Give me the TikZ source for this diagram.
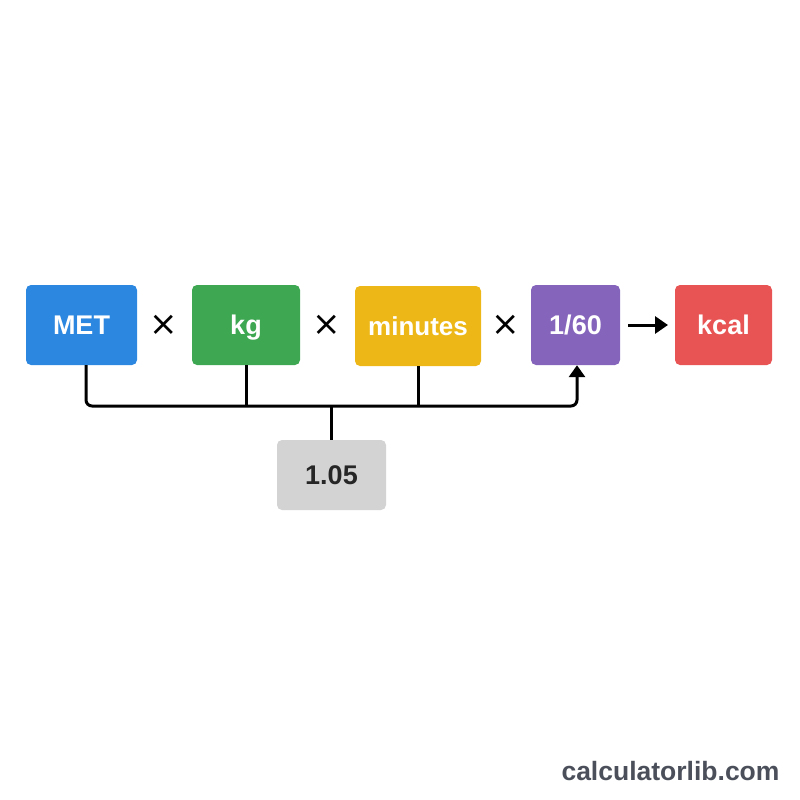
\documentclass[tikz,border=0pt]{standalone}
\usepackage{fontspec}
\setmainfont{Liberation Sans}
\newfontfamily\symfont{DejaVu Sans}
\usetikzlibrary{arrows.meta}
\definecolor{cblue}{HTML}{2B87E0}
\definecolor{cgreen}{HTML}{3DA752}
\definecolor{cyellow}{HTML}{EDB817}
\definecolor{cpurple}{HTML}{8565BC}
\definecolor{cred}{HTML}{E85454}
\definecolor{cgray}{HTML}{D3D3D3}
\definecolor{ctext}{HTML}{4A4F5A}
\tikzset{
  box/.style={rounded corners=5pt, minimum height=80pt, inner sep=0pt, text=white,
    text height=19.5pt, text depth=0pt,
    font=\fontsize{27}{30}\selectfont\bfseries},
  opsym/.style={font=\fontsize{34}{38}\selectfont\symfont, text=black},
  conn/.style={line width=3pt, black, rounded corners=6pt},
}
\begin{document}
\begin{tikzpicture}[x=1pt,y=-1pt]
\useasboundingbox (0,0) rectangle (800,800);
\node[box, fill=cblue, minimum width=111pt] (met) at (81.5,325) {MET};
\node[opsym] (x1) at (164,325) {×};
\node[box, fill=cgreen, minimum width=108pt] (kg) at (246,325) {kg};
\node[opsym] (x2) at (327,325) {×};
\node[box, fill=cyellow, minimum width=126pt] (min) at (418,326) {\fontsize{26}{30}\selectfont minutes};
\node[opsym] (x3) at (506,325) {×};
\node[box, fill=cpurple, minimum width=89pt] (frac) at (575.5,325) {1/60};
\node[box, fill=cred, minimum width=97pt] (kcal) at (723.5,325) {kcal};
\node[box, fill=cgray, minimum width=109pt, minimum height=70pt, text=black!85] (k) at (331.5,475) {1.05};
\node[font=\fontsize{26.5}{30}\selectfont\bfseries, text=ctext, anchor=east] (brand) at (783,771) {calculatorlib.com};
\coordinate (j) at (331,406);
\draw[conn, -{Triangle[length=12pt,width=16pt]}] (met.south -| 86,0) |- (j) -| (frac.south -| 577,0);
\draw[conn] (kg.south) -- (kg.south |- j);
\draw[conn] (min.south) -- (min.south |- j);
\draw[line width=3pt] (j) -- (j |- k.north);
\draw[line width=3pt, -{Triangle[length=13pt,width=17pt]}] (frac.east) ++(8,0) coordinate (a0) -- (kcal.west -| 668,0) coordinate (a1);
\end{tikzpicture}
\end{document}
